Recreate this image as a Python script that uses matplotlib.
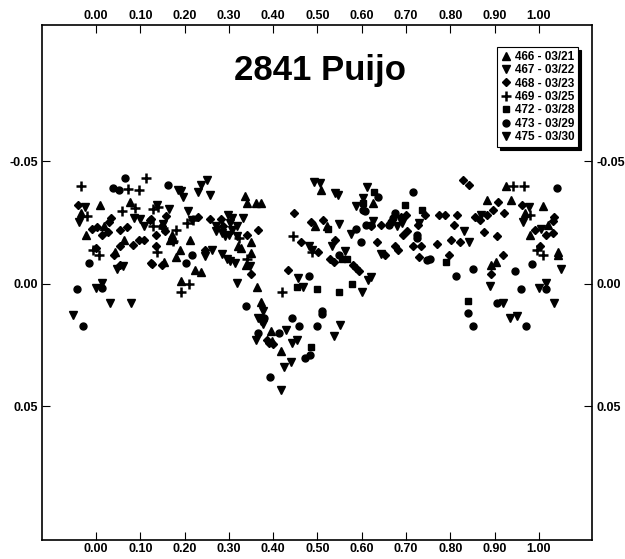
import matplotlib
matplotlib.use('Agg')
import matplotlib.pyplot as plt

plt.rcParams['font.family'] = ['Liberation Sans', 'DejaVu Sans']

# 466 - 03/21 (triangle up)
ph_466 = [0.009, -0.034, 0.077, 0.019, -0.023, 0.063, 0.043, 0.336, 0.340, 0.361, 0.372, 0.171, 0.174, 0.167,
          0.212, 0.349, 0.321, 0.327, 0.190, 0.181, 0.153, 0.223, 0.236, 0.351, 0.339, 0.191, 0.363, 0.372,
          0.508, 0.626, 0.494, 0.521, 0.394, 0.397, 0.417, 0.925, 0.882, 0.936, 1.010, 0.968, 1.021, 0.980,
          1.044, 1.044, 0.903, 0.893]
mag_466 = [-0.0320, -0.0289, -0.0332, -0.0237, -0.0200, -0.0180, -0.0130, -0.0356, -0.0329, -0.0329, -0.0329,
           -0.0198, -0.0184, -0.0180, -0.0180, -0.0171, -0.0153, -0.0146, -0.0139, -0.0110, -0.0088, -0.0058,
           -0.0049, -0.0126, -0.0078, -0.0011, 0.0014, 0.0073, -0.0383, -0.0329, -0.0234, -0.0234, 0.0194,
           0.0233, 0.0276, -0.0397, -0.0343, -0.0343, -0.0315, -0.0289, -0.0238, -0.0200, -0.0130, -0.0116,
           -0.0088, -0.0078]

# 467 - 03/22 (triangle down)
ph_467 = [-0.025, -0.038, 0.086, 0.099, 0.109, 0.048, 0.062, 0.000, 0.014, 0.032, 0.078, -0.051,
          0.186, 0.193, 0.197, 0.251, 0.236, 0.231, 0.257, 0.138, 0.165, 0.151, 0.208, 0.216, 0.299, 0.306,
          0.302, 0.331, 0.272, 0.271, 0.284, 0.291, 0.319, 0.306, 0.301, 0.318, 0.246, 0.263, 0.284, 0.295,
          0.302, 0.314, 0.348, 0.318, 0.366, 0.372]
mag_467 = [-0.0311, -0.0252, -0.0268, -0.0265, -0.0234, -0.0062, -0.0072, 0.0019, -0.0002, 0.0077, 0.0077, 0.0129,
           -0.0383, -0.0379, -0.0352, -0.0424, -0.0401, -0.0374, -0.0360, -0.0322, -0.0305, -0.0244, -0.0295,
           -0.0261, -0.0282, -0.0268, -0.0248, -0.0268, -0.0234, -0.0214, -0.0207, -0.0193, -0.0234, -0.0221,
           -0.0200, -0.0193, -0.0112, -0.0139, -0.0122, -0.0102, -0.0092, -0.0083, -0.0072, -0.0001, 0.0138, 0.0152]

# 468 - 03/23 (diamond)
ph_468 = [-0.041, 0.122, 0.033, 0.029, -0.010, 0.002, 0.014, 0.028, 0.054, 0.071, 0.054, 0.083, 0.096, 0.109,
          0.000, 0.041, 0.054, 0.124,
          0.157, 0.124, 0.148, 0.135, 0.156, 0.231, 0.257, 0.282, 0.287, 0.366, 0.340, 0.135, 0.246, 0.126,
          0.148, 0.351,
          0.447, 0.485, 0.512, 0.462, 0.540, 0.502, 0.528, 0.537, 0.581, 0.588, 0.594, 0.434, 0.385, 0.391, 0.400,
          0.829, 0.842, 0.743, 0.688, 0.701, 0.643, 0.622, 0.728, 0.775, 0.788, 0.816, 0.856, 0.867, 0.808,
          0.703, 0.694, 0.635, 0.675, 0.682, 0.716, 0.734, 0.770, 0.801, 0.823, 0.876, 0.652, 0.730, 0.796,
          0.908, 0.961, 0.896, 0.883, 0.921, 1.034, 1.032, 0.991, 0.905, 1.017, 1.031, 1.002, 0.919, 0.893]
mag_468 = [-0.0320, -0.0261, -0.0268, -0.0252, -0.0225, -0.0230, -0.0200, -0.0210, -0.0221, -0.0232, -0.0153,
           -0.0156, -0.0180, -0.0180, -0.0146, -0.0119, -0.0078, -0.0083,
           -0.0275, -0.0264, -0.0234, -0.0200, -0.0214, -0.0271, -0.0265, -0.0265, -0.0234, -0.0221, -0.0200,
           -0.0153, -0.0139, -0.0081, -0.0076, -0.0041,
           -0.0289, -0.0252, -0.0261, -0.0171, -0.0180, -0.0128, -0.0099, -0.0089, -0.0078, -0.0065, -0.0051,
           -0.0058, 0.0230, 0.0240, 0.0244,
           -0.0424, -0.0401, -0.0279, -0.0271, -0.0279, -0.0241, -0.0234, -0.0238, -0.0279, -0.0279, -0.0279,
           -0.0271, -0.0261, -0.0241, -0.0214, -0.0198, -0.0169, -0.0153, -0.0139, -0.0153, -0.0153, -0.0160,
           -0.0180, -0.0169, -0.0210, -0.0119, -0.0108, -0.0119,
           -0.0333, -0.0320, -0.0302, -0.0279, -0.0289, -0.0271, -0.0254, -0.0221, -0.0193, -0.0200, -0.0207,
           -0.0153, -0.0119, -0.0041]

# 469 - 03/25 (plus)
ph_469 = [-0.035, 0.113, 0.073, 0.098, -0.021, 0.058, 0.088, -0.006, 0.007, 0.128, 0.141, 0.129, 0.152, 0.181,
          0.173, 0.205, 0.218, 0.323, 0.138, 0.340, 0.193, 0.210, 0.445, 0.487, 0.421, 0.941, 0.966, 0.980,
          0.996, 1.010]
mag_469 = [-0.0400, -0.0431, -0.0387, -0.0383, -0.0275, -0.0298, -0.0309, -0.0137, -0.0119, -0.0305, -0.0311,
           -0.0234, -0.0228, -0.0221, -0.0173, -0.0248, -0.0261, -0.0187, -0.0130, -0.0099, 0.0033, 0.0003,
           -0.0193, -0.0130, 0.0033, -0.0397, -0.0397, -0.0279, -0.0139, -0.0116]

# 472 - 03/28 (square)
ph_472 = [0.603, 0.524, 0.555, 0.567, 0.453, 0.498, 0.549, 0.577, 0.485, 0.628, 0.698, 0.735, 0.790, 0.840]
mag_472 = [-0.0329, -0.0225, -0.0099, -0.0099, 0.0012, 0.0023, 0.0033, 0.0003, 0.0260, -0.0372, -0.0320,
           -0.0302, -0.0089, 0.0071]

# 473 - 03/29 (circle)
ph_473 = [0.066, 0.039, 0.053, -0.015, 0.014, -0.042, -0.030, 0.163, 0.217, 0.203, 0.338, 0.366, 0.603, 0.607,
          0.588, 0.609, 0.622, 0.598, 0.549, 0.481, 0.510, 0.510, 0.379, 0.442, 0.459, 0.500, 0.414, 0.483,
          0.472, 0.393, 0.715, 0.637, 0.675, 0.671, 0.667, 0.662, 0.724, 0.724, 0.748, 0.754, 0.813, 0.852,
          0.839, 0.852, 1.041, 0.985, 0.946, 0.959, 1.017, 0.905, 0.972]
mag_473 = [-0.0433, -0.0390, -0.0383, -0.0083, 0.0019, 0.0020, 0.0172, -0.0401, -0.0119, -0.0083, 0.0091,
           0.0199, -0.0302, -0.0295, -0.0225, -0.0241, -0.0241, -0.0171, -0.0116, -0.0031, 0.0111, 0.0122,
           0.0138, 0.0141, 0.0171, 0.0171, 0.0202, 0.0290, 0.0301, 0.0380, -0.0372, -0.0352, -0.0289, -0.0268,
           -0.0252, -0.0241, -0.0200, -0.0187, -0.0095, -0.0099, -0.0031, -0.0061, 0.0118, 0.0171, -0.0390,
           -0.0081, -0.0051, 0.0020, 0.0020, 0.0080, 0.0172]

# 475 - 03/30 (triangle down)
ph_475 = [0.493, 0.506, 0.540, 0.547, 0.612, 0.602, 0.587, 0.549, 0.575, 0.481, 0.487, 0.534, 0.562, 0.615,
          0.457, 0.468, 0.600, 0.378, 0.378, 0.552, 0.430, 0.537, 0.442, 0.454, 0.440, 0.424, 0.417, 0.361,
          0.626, 0.680, 0.691, 0.730, 0.869, 0.831, 0.842, 0.643, 0.620, 0.978, 0.965, 1.004, 1.049, 0.889,
          1.001, 1.017, 0.919, 1.034, 0.935, 0.950]
mag_475 = [-0.0415, -0.0411, -0.0370, -0.0360, -0.0393, -0.0350, -0.0315, -0.0244, -0.0203, -0.0153, -0.0139,
           -0.0153, -0.0133, -0.0017, -0.0024, 0.0012, 0.0033, 0.0111, 0.0163, 0.0170, 0.0190, 0.0213, 0.0240,
           0.0230, 0.0321, 0.0339, 0.0434, 0.0229, -0.0257, -0.0234, -0.0248, -0.0248, -0.0282, -0.0214,
           -0.0171, -0.0122, -0.0027, -0.0311, -0.0252, -0.0225, -0.0061, 0.0010, 0.0019, -0.0001, 0.0077,
           0.0080, 0.0138, 0.0132]

labels = ['466 - 03/21', '467 - 03/22', '468 - 03/23', '469 - 03/25',
          '472 - 03/28', '473 - 03/29', '475 - 03/30']
xticks = [0.0, 0.1, 0.2, 0.3, 0.4, 0.5, 0.6, 0.7, 0.8, 0.9, 1.0]
yticks = [-0.05, 0.0, 0.05]

series = [(ph_466, mag_466, '^', 5.5, 1.0), (ph_467, mag_467, 'v', 5.5, 1.0),
          (ph_468, mag_468, 'D', 4.0, 1.0), (ph_469, mag_469, '+', 7.0, 1.8),
          (ph_472, mag_472, 's', 5.0, 1.0), (ph_473, mag_473, 'o', 5.0, 1.0),
          (ph_475, mag_475, 'v', 5.5, 1.0)]

fig = plt.figure(figsize=(6.25, 5.59), dpi=100)
ax = fig.add_axes([42 / 625, 1 - 540 / 559, 550 / 625, 515 / 559])

for (px, py, mk, ms, mew), lab in zip(series, labels):
    ax.plot(px, py, linestyle='none', marker=mk, markersize=ms, color='black',
            markeredgewidth=mew, label=lab)

ax.set_xlim(-0.122, 1.12)
ax.set_ylim(0.1045, -0.1055)
ax.set_xticks(xticks)
ax.set_yticks(yticks)
ax.xaxis.set_major_formatter(matplotlib.ticker.FormatStrFormatter('%.2f'))
ax.yaxis.set_major_formatter(matplotlib.ticker.FormatStrFormatter('%.2f'))
ax.tick_params(direction='in', top=True, right=True, labeltop=True, labelright=True,
               length=6, width=0.8, labelsize=9, pad=3)
ax.tick_params(axis='x', which='both', pad=2.5)
for t in ax.xaxis.get_major_ticks() + ax.yaxis.get_major_ticks():
    t.label1.set_fontweight('bold')
    t.label2.set_fontweight('bold')
for s in ax.spines.values():
    s.set_linewidth(1.2)

fig.text(319.5 / 625, 1 - 80 / 559, '2841 Puijo', ha='center', va='baseline',
         fontsize=25, fontweight='heavy')

leg = ax.legend(loc='upper right', bbox_to_anchor=(0.975, 0.957), borderaxespad=0,
                fancybox=False, shadow={'color': 'black', 'alpha': 1.0},
                edgecolor='black', framealpha=1, handlelength=0.8, handletextpad=0.4,
                labelspacing=0.12, borderpad=0.3, prop={'weight': 'bold', 'size': 8.5})
leg.get_frame().set_linewidth(0.8)

fig.savefig('out.png', dpi=100)
